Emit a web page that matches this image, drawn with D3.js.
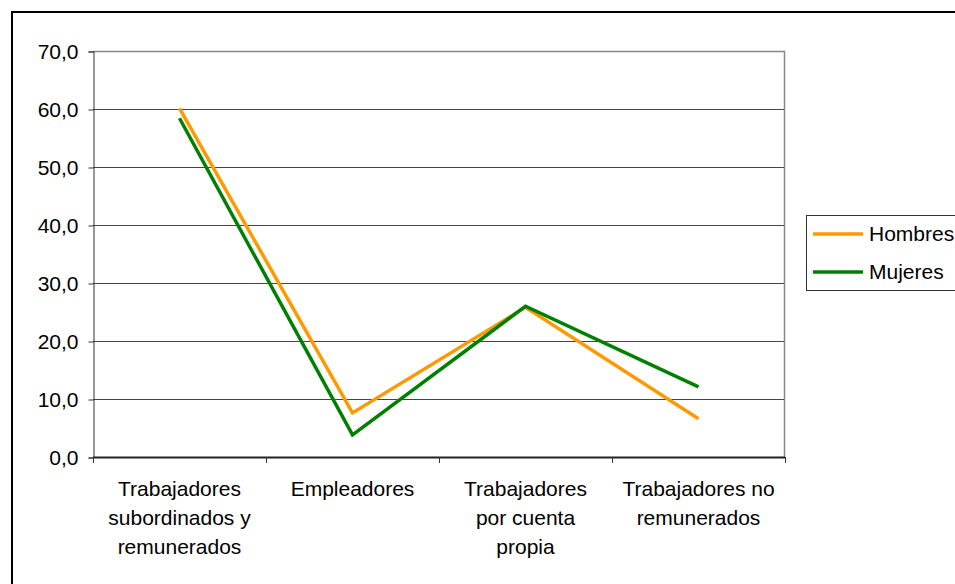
<!DOCTYPE html>
<html>
<head>
<meta charset="utf-8">
<script src="https://cdn.jsdelivr.net/npm/d3@7"></script>
<style>
  body { margin: 0; background: #fff; }
  svg { display: block; font-family: "Liberation Sans", Arial, sans-serif; }
</style>
</head>
<body>
<div id="chart"></div>
<script>
// data
const categories = [
    ["Trabajadores", "subordinados y", "remunerados"],
    ["Empleadores"],
    ["Trabajadores", "por cuenta", "propia"],
    ["Trabajadores no", "remunerados"]
];
const hombres = [60.1, 7.6, 25.8, 6.6];
const mujeres = [58.4, 3.8, 26.0, 12.1];
const yTicks = [0, 10, 20, 30, 40, 50, 60, 70];
const seriesNames = ["Hombres", "Mujeres"];
const seriesColors = ["#FF9900", "#008000"];

const width = 955;
const height = 584;
const plot = { left: 93, top: 51, right: 785, bottom: 457 };
const fontSize = "21px";

const svg = d3.select("#chart").append("svg")
    .attr("width", width)
    .attr("height", height);

// outer frame
svg.append("rect")
    .attr("x", 12).attr("y", 12)
    .attr("width", width + 20).attr("height", height + 20)
    .attr("fill", "none")
    .attr("stroke", "#000")
    .attr("stroke-width", 2);

// scales
const xScale = d3.scaleBand()
    .domain(d3.range(categories.length))
    .range([plot.left, plot.right]);

const yScale = d3.scaleLinear()
    .domain([0, 70])
    .range([plot.bottom, plot.top]);

// gridlines
svg.append("g")
    .selectAll("line")
    .data(yTicks.slice(1, -1))
    .join("line")
    .attr("x1", plot.left).attr("x2", plot.right)
    .attr("y1", d => Math.round(yScale(d)) + 0.5)
    .attr("y2", d => Math.round(yScale(d)) + 0.5)
    .attr("stroke", "#444")
    .attr("stroke-width", 1);

// plot border top/right
svg.append("path")
    .attr("d", `M${plot.left},${plot.top + 0.5}H${plot.right - 0.5}V${plot.bottom}`)
    .attr("fill", "none")
    .attr("stroke", "#888")
    .attr("stroke-width", 1.5);

// y axis
const yaxis = d3.axisLeft(yScale)
    .tickValues(yTicks)
    .tickSize(5)
    .tickPadding(10)
    .tickFormat(d => d3.format(".1f")(d).replace(".", ","));

svg.append("g")
    .attr("transform", "translate(" + (plot.left + 0.5) + ",0.5)")
    .call(yaxis)
    .call(g => g.select(".domain").attr("stroke", "#333"))
    .call(g => g.selectAll(".tick line").attr("stroke", "#333"))
    .call(g => g.selectAll("text")
        .attr("fill", "#000")
        .style("font-size", fontSize)
        .style("font-family", "'Liberation Sans', Arial, sans-serif"));

// x axis (ticks at category boundaries)
const boundaries = d3.range(categories.length + 1).map(i => plot.left + i * xScale.step());
svg.append("line")
    .attr("x1", plot.left).attr("x2", plot.right)
    .attr("y1", plot.bottom + 0.5).attr("y2", plot.bottom + 0.5)
    .attr("stroke", "#222")
    .attr("stroke-width", 2);
svg.append("g")
    .selectAll("line")
    .data(boundaries)
    .join("line")
    .attr("x1", d => Math.round(d) + 0.5).attr("x2", d => Math.round(d) + 0.5)
    .attr("y1", plot.bottom).attr("y2", plot.bottom + 6)
    .attr("stroke", "#333");

// category labels
const labels = svg.append("g")
    .selectAll("text")
    .data(categories)
    .join("text")
    .attr("x", (d, i) => xScale(i) + xScale.bandwidth() / 2)
    .attr("y", 496)
    .attr("text-anchor", "middle")
    .style("font-size", fontSize)
    .attr("fill", "#000");

labels.selectAll("tspan")
    .data(d => d)
    .join("tspan")
    .attr("x", function () { return this.parentNode.getAttribute("x"); })
    .attr("dy", (d, i) => i === 0 ? 0 : 29)
    .text(d => d);

// lines
const line = d3.line()
    .x((d, i) => xScale(i) + xScale.bandwidth() / 2)
    .y(d => yScale(d));

[hombres, mujeres].forEach((vals, k) => {
    svg.append("path")
        .attr("d", line(vals))
        .attr("fill", "none")
        .attr("stroke", seriesColors[k])
        .attr("stroke-width", 3.5)
        .attr("stroke-linejoin", "miter");
});

// legend
const legend = svg.append("g");
legend.append("rect")
    .attr("x", 806.5).attr("y", 215.5)
    .attr("width", 170).attr("height", 75)
    .attr("fill", "#fff")
    .attr("stroke", "#333")
    .attr("stroke-width", 1);

seriesNames.forEach((name, k) => {
    const y = 234 + k * 38;
    legend.append("line")
        .attr("x1", 813).attr("x2", 863)
        .attr("y1", y).attr("y2", y)
        .attr("stroke", seriesColors[k])
        .attr("stroke-width", 3.5);
    legend.append("text")
        .attr("x", 869).attr("y", y + 7)
        .style("font-size", fontSize)
        .attr("fill", "#000")
        .text(name);
});
</script>
</body>
</html>
